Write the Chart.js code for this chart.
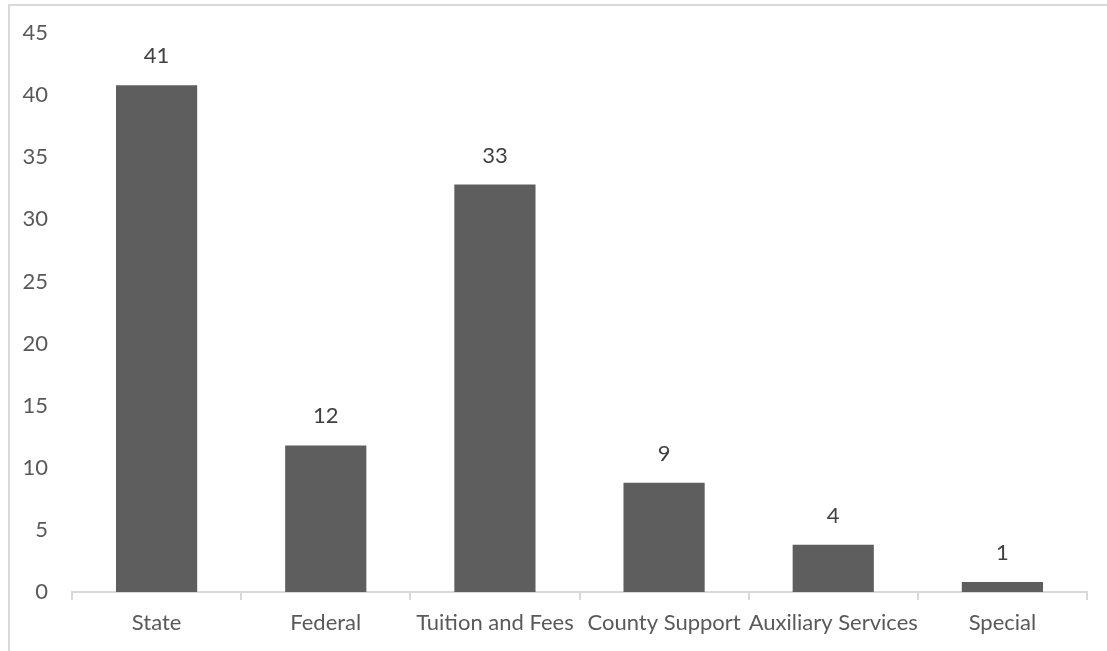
<!DOCTYPE html>
<html>
<head>
<meta charset="utf-8">
<script src="https://cdn.jsdelivr.net/npm/chart.js@4.4.3/dist/chart.umd.min.js"></script>
<style>
  html, body { margin: 0; padding: 0; background: #fff; }
  #wrap { position: relative; width: 1107px; height: 651px; overflow: hidden; }
  #frame { position: absolute; left: 8px; top: 4px; width: 1200px; height: 800px; border: 2px solid #d9d9d9; box-sizing: border-box; }
  #chart { position: absolute; left: 0; top: 0; }
</style>
</head>
<body>
<div id="wrap">
  <div id="frame"></div>
  <canvas id="chart" width="1107" height="651"></canvas>
</div>
<script>
const categories = ['State', 'Federal', 'Tuition and Fees', 'County Support', 'Auxiliary Services', 'Special'];
const shares = [40.8, 11.8, 32.8, 8.8, 3.8, 0.8];
const yTicks = [0, 5, 10, 15, 20, 25, 30, 35, 40, 45];

const FONT = 'Lato, "Open Sans", sans-serif';

// draws the rounded value above each bar
const valueLabels = {
    id: 'valueLabels',
    afterDatasetsDraw(chart) {
        const ctx = chart.ctx;
        const meta = chart.getDatasetMeta(0);
        ctx.save();
        ctx.font = '22px ' + FONT;
        ctx.fillStyle = '#404040';
        ctx.textAlign = 'center';
        ctx.textBaseline = 'alphabetic';
        meta.data.forEach((bar, i) => {
            ctx.fillText(String(Math.round(shares[i])), bar.x, bar.y - 22);
        });
        ctx.restore();
    }
};

new Chart(document.getElementById('chart'), {
    type: 'bar',
    data: {
        labels: categories,
        datasets: [{
            data: shares,
            backgroundColor: '#5e5e5e',
            borderWidth: 0,
            barPercentage: 0.96,
            categoryPercentage: 0.5
        }]
    },
    options: {
        responsive: false,
        animation: false,
        layout: { padding: { top: 33, right: 20, bottom: 0, left: 0 } },
        plugins: { legend: { display: false }, tooltip: { enabled: false } },
        scales: {
            x: {
                grid: { display: true, drawOnChartArea: false, drawTicks: true, tickLength: 8, color: '#d9d9d9', lineWidth: 2 },
                border: { display: true, color: '#d9d9d9', width: 2 },
                ticks: { color: '#595959', font: { family: FONT, size: 22 }, padding: 10, maxRotation: 0, autoSkip: false },
                afterFit(scale) { scale.height = 59; }
            },
            y: {
                min: 0,
                max: 45,
                grid: { display: false },
                border: { display: false },
                afterBuildTicks(scale) { scale.ticks = yTicks.map(v => ({ value: v })); },
                ticks: { color: '#595959', font: { family: FONT, size: 22 }, padding: 16 },
                afterFit(scale) { scale.width = 72; }
            }
        }
    },
    plugins: [valueLabels]
});
</script>
</body>
</html>
